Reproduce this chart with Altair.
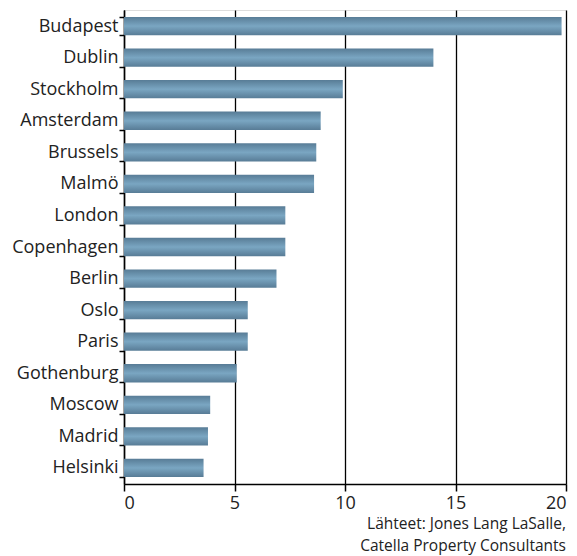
import altair as alt
import pandas as pd

cities = ["Budapest", "Dublin", "Stockholm", "Amsterdam", "Brussels", "Malmö",
          "London", "Copenhagen", "Berlin", "Oslo", "Paris", "Gothenburg",
          "Moscow", "Madrid", "Helsinki"]
values = [19.8, 14.0, 9.9, 8.9, 8.7, 8.6, 7.3, 7.3, 6.9, 5.6, 5.6, 5.1, 3.9, 3.8, 3.6]
x_ticks = [0, 5, 10, 15, 20]
source_lines = ["Lähteet: Jones Lang LaSalle,", "Catella Property Consultants"]

df = pd.DataFrame({"city": cities, "value": values})

FONT = "Open Sans"

grad = alt.Gradient(
    gradient="linear", x1=0, x2=0, y1=0, y2=1,
    stops=[
        alt.GradientStop(color="#587c96", offset=0),
        alt.GradientStop(color="#7aa6c2", offset=0.5),
        alt.GradientStop(color="#587c96", offset=1),
    ],
)

bars = alt.Chart(df).mark_bar(color=grad).encode(
    x=alt.X("value:Q", scale=alt.Scale(domain=[0, 20], nice=False),
            axis=alt.Axis(values=x_ticks, title=None, grid=True, gridColor="#000000",
                          gridWidth=1.3, gridOpacity=1, domainColor="#000000",
                          domainWidth=1.5, tickColor="#000000", tickSize=7,
                          tickWidth=1.5, labelFontSize=18, labelFont=FONT,
                          labelColor="#222222", labelPadding=3)),
    y=alt.Y("city:N", sort=cities,
            scale=alt.Scale(paddingInner=0.42, paddingOuter=0.22),
            axis=alt.Axis(title=None, tickBand="extent", domainColor="#000000",
                          domainWidth=1.5, tickColor="#000000", tickSize=5,
                          tickWidth=1.5, labelFontSize=18, labelFont=FONT,
                          labelColor="#222222", labelPadding=1)),
)

src_layers = []
for i, line in enumerate(source_lines):
    src_layers.append(
        alt.Chart(pd.DataFrame({"t": [line]})).mark_text(
            align="right", baseline="middle", font=FONT, fontSize=15.5,
            color="#222222",
        ).encode(text="t:N", x=alt.value(442), y=alt.value(514 + 21.5 * i))
    )

chart = alt.layer(bars, *src_layers).properties(
    width=442, height=474,
    autosize=alt.AutoSizeParams(type="none"),
    padding={"left": 124, "top": 10, "right": 11, "bottom": 72},
).configure_view(stroke="#000000", strokeWidth=1.5).configure(background="white")

chart.save("out.html", embed_options={"renderer": "svg", "actions": False})
